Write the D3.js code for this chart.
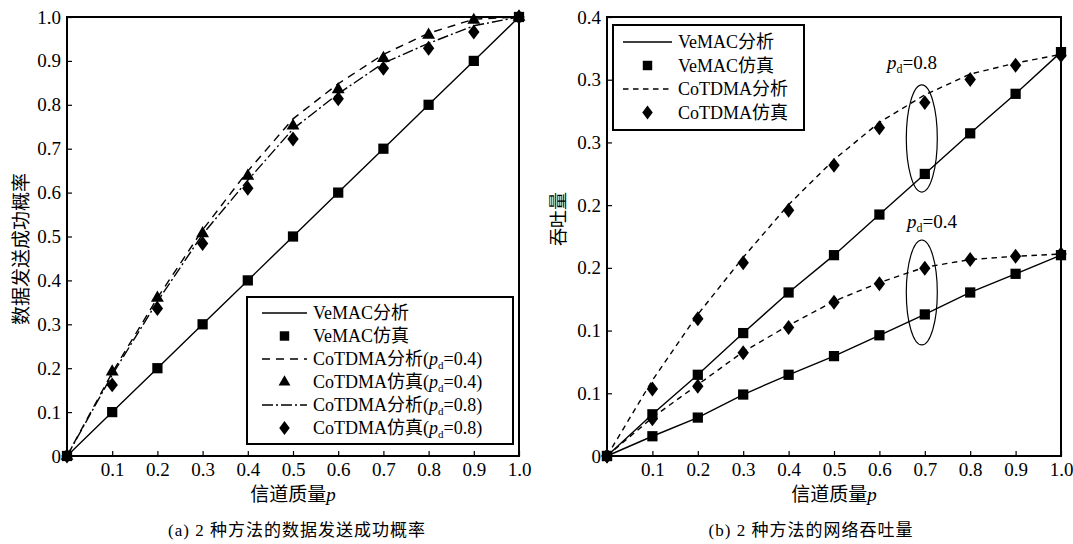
<!DOCTYPE html>
<html>
<head>
<meta charset="utf-8">
<script src="https://cdn.jsdelivr.net/npm/d3@7"></script>
<style>
body { margin: 0; background: #fff; }
text { font-family: "Liberation Serif", "Times New Roman", "Noto Sans CJK SC", serif; fill: #000; }
</style>
</head>
<body>
<script>
// shared x values (channel quality p)
var pValues = [0, 0.1, 0.2, 0.3, 0.4, 0.5, 0.6, 0.7, 0.8, 0.9, 1.0];
var xTickValues = [0.1, 0.2, 0.3, 0.4, 0.5, 0.6, 0.7, 0.8, 0.9, 1.0];

// (a) success probability
var vemacAnalysisA = [0, 0.1, 0.2, 0.3, 0.4, 0.5, 0.6, 0.7, 0.8, 0.9, 1.0];
var vemacSimA = [0, 0.1, 0.2, 0.3, 0.4, 0.5, 0.6, 0.7, 0.8, 0.9, 1.0];
var cot04AnalysisA = [0, 0.19, 0.36, 0.515, 0.649, 0.768, 0.848, 0.915, 0.963, 0.995, 1.0];
var cot04SimA = [0, 0.192, 0.36, 0.507, 0.638, 0.752, 0.835, 0.906, 0.959, 0.993, 1.0];
var cot08AnalysisA = [0, 0.185, 0.352, 0.505, 0.628, 0.745, 0.825, 0.895, 0.94, 0.98, 1.0];
var cot08SimA = [0, 0.162, 0.336, 0.484, 0.61, 0.722, 0.814, 0.883, 0.929, 0.966, 1.0];
var yTickValuesA = [0, 0.1, 0.2, 0.3, 0.4, 0.5, 0.6, 0.7, 0.8, 0.9, 1.0];
var yTickLabelsA = ["0", "0.1", "0.2", "0.3", "0.4", "0.5", "0.6", "0.7", "0.8", "0.9", "1.0"];

// (b) throughput
var vemac08B = [0, 0.038, 0.074, 0.112, 0.149, 0.183, 0.220, 0.257, 0.294, 0.330, 0.368];
var vemac04B = [0, 0.018, 0.035, 0.056, 0.074, 0.091, 0.110, 0.129, 0.149, 0.166, 0.183];
var cot08AnalysisB = [0, 0.069, 0.129, 0.181, 0.229, 0.270, 0.304, 0.329, 0.348, 0.358, 0.366];
var cot08SimB = [0, 0.061, 0.125, 0.176, 0.224, 0.265, 0.299, 0.322, 0.343, 0.356, 0.365];
var cot04AnalysisB = [0, 0.035, 0.065, 0.095, 0.119, 0.141, 0.158, 0.172, 0.179, 0.182, 0.184];
var cot04SimB = [0, 0.034, 0.0635, 0.094, 0.117, 0.140, 0.157, 0.171, 0.179, 0.182, 0.184];
var yTickValuesB = [0, 0.4/7, 0.8/7, 1.2/7, 1.6/7, 2.0/7, 2.4/7, 0.4];
var yTickLabelsB = ["0", "0.1", "0.1", "0.2", "0.2", "0.3", "0.3", "0.4"];

var dashed = "8,6";
var dashDot = "11,3,2,3";
var shortDash = "5.5,4.5";

// fatter diamond than d3's default
var diamond = {
  draw: function(ctx, size) {
    var h = Math.sqrt(size / 1.52), w = h * 0.76;
    ctx.moveTo(0, -h); ctx.lineTo(w, 0); ctx.lineTo(0, h); ctx.lineTo(-w, 0); ctx.closePath();
  }
};
var square = d3.symbolSquare, tri = d3.symbolTriangle;

var svg = d3.select("body").append("svg")
  .attr("width", 1073)
  .attr("height", 544);

function panel(opt) {
  var g = svg.append("g");
  var x = d3.scaleLinear().domain([0, 1]).range([opt.left, opt.right]);
  var y = d3.scaleLinear().domain(opt.yDomain).range([opt.bottom, opt.top]);

  opt.lines.forEach(function(s) {
    g.append("path")
      .datum(s.values)
      .attr("fill", "none")
      .attr("stroke", "#000")
      .attr("stroke-width", 1.4)
      .attr("stroke-dasharray", s.dash || null)
      .attr("d", d3.line().x(function(d, i) { return x(pValues[i]); }).y(function(d) { return y(d); }));
  });

  opt.marks.forEach(function(s) {
    g.selectAll(null)
      .data(s.values)
      .enter().append("path")
      .attr("transform", function(d, i) { return "translate(" + x(pValues[i]) + "," + y(d) + ")"; })
      .attr("d", d3.symbol().type(s.type).size(s.size))
      .attr("fill", "#000");
  });

  g.append("rect")
    .attr("x", opt.left).attr("y", opt.top)
    .attr("width", opt.right - opt.left).attr("height", opt.bottom - opt.top)
    .attr("fill", "none").attr("stroke", "#000").attr("stroke-width", 2);

  var xAxis = g.append("g")
    .attr("transform", "translate(0," + opt.bottom + ")")
    .call(d3.axisBottom(x).tickValues(xTickValues).tickSizeInner(-5).tickSizeOuter(0).tickPadding(7).tickFormat(d3.format(".1f")));
  var yAxis = g.append("g")
    .attr("transform", "translate(" + opt.left + ",0)")
    .call(d3.axisLeft(y).tickValues(opt.yTicks).tickSizeInner(-5).tickSizeOuter(0).tickPadding(6)
      .tickFormat(function(d, i) { return opt.yLabels[i]; }));
  [xAxis, yAxis].forEach(function(a) {
    a.select(".domain").remove();
    a.selectAll("line").attr("stroke", "#000").attr("stroke-width", 1.2);
    a.selectAll("text").attr("font-size", 19).style("font-family", "'Liberation Serif', serif");
  });

  var xt = g.append("text")
    .attr("x", (opt.left + opt.right) / 2)
    .attr("y", 501)
    .attr("text-anchor", "middle")
    .attr("font-size", 19);
  xt.append("tspan").text("信道质量");
  xt.append("tspan").attr("font-style", "italic").text("p");

  g.append("text")
    .attr("transform", "translate(" + opt.yTitleX + "," + opt.yTitleY + ") rotate(-90)")
    .attr("text-anchor", "middle")
    .attr("dominant-baseline", "central")
    .attr("font-size", opt.yTitleSize)
    .text(opt.yTitle);

  g.append("text")
    .attr("x", opt.captionX)
    .attr("y", 536)
    .attr("text-anchor", "middle")
    .attr("font-size", 17)
    .attr("letter-spacing", 1)
    .text(opt.caption);

  var lg = opt.legend;
  g.append("rect")
    .attr("x", lg.x).attr("y", lg.y).attr("width", lg.w).attr("height", lg.h)
    .attr("fill", "#fff").attr("stroke", "#000").attr("stroke-width", 2);
  lg.items.forEach(function(it, i) {
    var cy = lg.y + lg.first + i * lg.step;
    if (it.dash !== undefined) {
      g.append("line")
        .attr("x1", lg.x + lg.sx1).attr("x2", lg.x + lg.sx2)
        .attr("y1", cy).attr("y2", cy)
        .attr("stroke", "#000").attr("stroke-width", 1.4)
        .attr("stroke-dasharray", it.dash || null);
    } else {
      g.append("path")
        .attr("transform", "translate(" + (lg.x + (lg.sx1 + lg.sx2) / 2) + "," + cy + ")")
        .attr("d", d3.symbol().type(it.type).size(it.size * 0.85))
        .attr("fill", "#000");
    }
    var t = g.append("text")
      .attr("x", lg.x + lg.tx)
      .attr("y", cy + 6)
      .attr("font-size", 18);
    t.append("tspan").text(it.label);
    if (it.pd) {
      t.append("tspan").text("(");
      t.append("tspan").attr("font-style", "italic").text("p");
      t.append("tspan").attr("font-size", 11).attr("dy", 4).text("d");
      t.append("tspan").attr("dy", -4).text("=" + it.pd + ")");
    }
  });

  return { g: g, x: x, y: y };
}

panel({
  left: 67, right: 519, top: 17, bottom: 456,
  yDomain: [0, 1], yTicks: yTickValuesA, yLabels: yTickLabelsA,
  yTitle: "数据发送成功概率", yTitleX: 21, yTitleY: 249, yTitleSize: 19,
  caption: "(a) 2 种方法的数据发送成功概率", captionX: 297,
  lines: [
    { values: vemacAnalysisA, dash: null },
    { values: cot04AnalysisA, dash: dashed },
    { values: cot08AnalysisA, dash: dashDot }
  ],
  marks: [
    { values: vemacSimA, type: square, size: 105 },
    { values: cot04SimA, type: tri, size: 72 },
    { values: cot08SimA, type: diamond, size: 85 }
  ],
  legend: {
    x: 247, y: 297, w: 266, h: 147, first: 16, step: 23, sx1: 15, sx2: 60, tx: 66,
    items: [
      { label: "VeMAC分析", dash: null },
      { label: "VeMAC仿真", type: square, size: 105 },
      { label: "CoTDMA分析", dash: dashed, pd: "0.4" },
      { label: "CoTDMA仿真", type: tri, size: 72, pd: "0.4" },
      { label: "CoTDMA分析", dash: dashDot, pd: "0.8" },
      { label: "CoTDMA仿真", type: diamond, size: 85, pd: "0.8" }
    ]
  }
});

var pb = panel({
  left: 607, right: 1061, top: 17, bottom: 456,
  yDomain: [0, 0.4], yTicks: yTickValuesB, yLabels: yTickLabelsB,
  yTitle: "吞吐量", yTitleX: 559, yTitleY: 219, yTitleSize: 18,
  caption: "(b) 2 种方法的网络吞吐量", captionX: 811,
  lines: [
    { values: vemac08B, dash: null },
    { values: vemac04B, dash: null },
    { values: cot08AnalysisB, dash: shortDash },
    { values: cot04AnalysisB, dash: shortDash }
  ],
  marks: [
    { values: vemac08B, type: square, size: 105 },
    { values: vemac04B, type: square, size: 105 },
    { values: cot08SimB, type: diamond, size: 85 },
    { values: cot04SimB, type: diamond, size: 85 }
  ],
  legend: {
    x: 613, y: 25, w: 191, h: 105, first: 17, step: 23.5, sx1: 10, sx2: 59, tx: 65,
    items: [
      { label: "VeMAC分析", dash: null },
      { label: "VeMAC仿真", type: square, size: 105 },
      { label: "CoTDMA分析", dash: shortDash },
      { label: "CoTDMA仿真", type: diamond, size: 85 }
    ]
  }
});

// ellipse annotations on panel (b)
var notes = [
  { p: 0.7, center: 0.2893, half: 0.0488, label: "0.8", lx: 887, ly: 69 },
  { p: 0.7, center: 0.149, half: 0.0478, label: "0.4", lx: 907, ly: 228 }
];
notes.forEach(function(n) {
  pb.g.append("ellipse")
    .attr("cx", pb.x(n.p) - 3)
    .attr("cy", pb.y(n.center))
    .attr("rx", 15.5)
    .attr("ry", pb.y(n.center - n.half) - pb.y(n.center))
    .attr("fill", "none").attr("stroke", "#000").attr("stroke-width", 1.2);
  var t = pb.g.append("text").attr("x", n.lx).attr("y", n.ly).attr("font-size", 19);
  t.append("tspan").attr("font-style", "italic").text("p");
  t.append("tspan").attr("font-size", 12).attr("dy", 4).text("d");
  t.append("tspan").attr("dy", -4).text("=" + n.label);
});
</script>
</body>
</html>
